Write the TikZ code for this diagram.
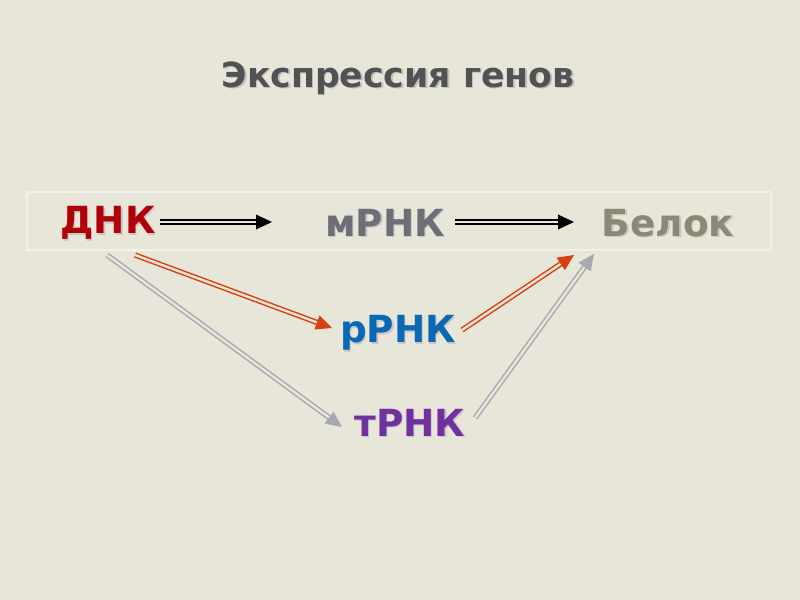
\documentclass[tikz,border=0pt]{standalone}
\usepackage{fontspec}
\setmainfont{DejaVu Sans}
\usetikzlibrary{arrows.meta,shadows}
\definecolor{bg}{HTML}{E8E6D8}
\definecolor{dred}{HTML}{B00008}
\definecolor{mgray}{HTML}{6E6E76}
\definecolor{khaki}{HTML}{8C8874}
\definecolor{rblue}{HTML}{0A68B4}
\definecolor{tpurp}{HTML}{7030A0}
\definecolor{aorange}{HTML}{D84010}
\definecolor{agray}{HTML}{A8A8B0}
\begin{document}
\begin{tikzpicture}[x=0.75pt,y=-0.75pt,
  lbl/.style={font=\bfseries\fontsize{28}{32}\selectfont,inner sep=0pt},
  dbl/.style={draw=#1,double=bg,double distance=1.8pt,line width=1.1pt,
    -{Triangle[length=12pt,width=11pt,fill=#1,color=#1]}}]
\fill[bg] (0,0) rectangle (800,600);
\useasboundingbox (0,0) rectangle (800,600);
\draw[white!45!bg,line width=1pt] (27,192) rectangle (771,250);
\node[lbl,font=\bfseries\fontsize{26}{30}\selectfont,text=black!25,xshift=1.2pt,yshift=-1.2pt] at (398,78) {Экспрессия генов};
\node[lbl,font=\bfseries\fontsize{26}{30}\selectfont,text=black!68] (title) at (398,78) {Экспрессия генов};
\foreach \n/\t/\c/\x/\y in {dnk/ДНК/dred/108/223, mrnk/мРНК/mgray/385/223, belok/Белок/khaki/668/223, rrnk/рРНК/rblue/398/333, trnk/тРНК/tpurp/410/423}{
  \node[lbl,text=black!22,xshift=1pt,yshift=-1pt] at (\x,\y) {\t};
  \node[lbl,text=\c] (\n) at (\x,\y) {\t};
}
\coordinate (a1) at (160,222); \coordinate (a2) at (272,222);
\coordinate (b1) at (455,222); \coordinate (b2) at (574,222);
\coordinate (c1) at (135,255); \coordinate (c2) at (332,328);
\coordinate (d1) at (462,330); \coordinate (d2) at (574,255);
\coordinate (e1) at (107,255); \coordinate (e2) at (342,427);
\coordinate (f1) at (475,418); \coordinate (f2) at (594,254);
\draw[dbl=black] (a1) -- (a2);
\draw[dbl=black] (b1) -- (b2);
\draw[dbl=aorange] (c1) -- (c2);
\draw[dbl=aorange] (d1) -- (d2);
\draw[dbl=agray] (e1) -- (e2);
\draw[dbl=agray] (f1) -- (f2);
\end{tikzpicture}
\end{document}
